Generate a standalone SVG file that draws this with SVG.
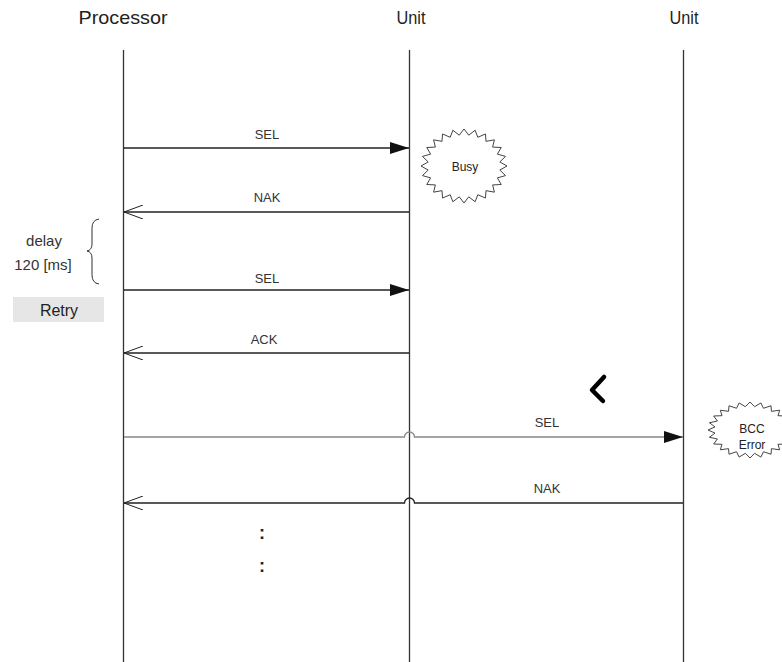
<svg xmlns="http://www.w3.org/2000/svg" xmlns:xlink="http://www.w3.org/1999/xlink" width="782" height="662" viewBox="0 0 782 662">
<style>
  text { font-family: "Liberation Sans", Arial, sans-serif; fill: #222; }
  .hdr { font-size: 19px; text-anchor: middle; }
  .lbl { font-size: 13px; text-anchor: middle; fill: #333; }
  .side { font-size: 15px; text-anchor: middle; fill: #333; }
  .small { font-size: 12px; text-anchor: middle; }
  .life { stroke: #333; stroke-width: 1.3; fill: none; }
  .msg { stroke: #222; stroke-width: 1.3; fill: none; }
  .grey { stroke: #888; }
  .burst { fill: #fff; stroke: #444; stroke-width: 1; vector-effect: non-scaling-stroke; }
</style>
<defs>
  <marker id="filled" viewBox="0 0 19 12" refX="19" refY="6" markerWidth="19" markerHeight="12" markerUnits="userSpaceOnUse" orient="auto">
    <path d="M0,0 L19,6 L0,12 Z" fill="#111"/>
  </marker>
  <marker id="open" viewBox="0 0 20 14" refX="19" refY="7" markerWidth="20" markerHeight="14" markerUnits="userSpaceOnUse" orient="auto">
    <path d="M0,0 L19,7 L0,14" fill="none" stroke="#222" stroke-width="1"/>
  </marker>
  <polygon id="star" class="burst" points="1,0 .833,.110 .966,.259 .776,.321 .866,.5 .666,.511 .707,.707 .511,.666 .5,.866 .321,.776 .259,.966 .110,.833 0,1 -.110,.833 -.259,.966 -.321,.776 -.5,.866 -.511,.666 -.707,.707 -.666,.511 -.866,.5 -.776,.321 -.966,.259 -.833,.110 -1,0 -.833,-.110 -.966,-.259 -.776,-.321 -.866,-.5 -.666,-.511 -.707,-.707 -.511,-.666 -.5,-.866 -.321,-.776 -.259,-.966 -.110,-.833 0,-1 .110,-.833 .259,-.966 .321,-.776 .5,-.866 .511,-.666 .707,-.707 .666,-.511 .866,-.5 .776,-.321 .966,-.259 .833,-.110"/>
</defs>

<g id="processor">
  <text class="hdr" x="123" y="24" textLength="89" lengthAdjust="spacingAndGlyphs">Processor</text>
  <line class="life" x1="123.5" y1="50" x2="123.5" y2="662"/>
</g>
<g id="unit1">
  <text class="hdr" x="411" y="24" textLength="29" lengthAdjust="spacingAndGlyphs">Unit</text>
  <line class="life" x1="409.5" y1="50" x2="409.5" y2="662"/>
</g>
<g id="unit2">
  <text class="hdr" x="684" y="24" textLength="29" lengthAdjust="spacingAndGlyphs">Unit</text>
  <line class="life" x1="683.5" y1="50" x2="683.5" y2="662"/>
</g>

<g id="busy">
  <use xlink:href="#star" transform="translate(464,166) scale(43,37)"/>
  <text class="small" x="465" y="171">Busy</text>
</g>
<g id="bccerror">
  <use xlink:href="#star" transform="translate(750,430) scale(42,28)"/>
  <text class="small" x="752" y="433">BCC</text>
  <text class="small" x="752" y="449">Error</text>
</g>

<g id="delay">
  <text class="side" x="44" y="246">delay</text>
  <text class="side" x="43" y="270">120 [ms]</text>
  <path d="M99,219 Q92,220 92,228 L92,244 Q92,250 87,251 Q92,252 92,258 L92,275 Q92,283 99,284" fill="none" stroke="#333" stroke-width="1"/>
</g>
<g id="retry">
  <rect x="13" y="297" width="91" height="25" fill="#e6e6e6"/>
  <text x="59" y="316" style="font-size:16px;text-anchor:middle">Retry</text>
</g>

<g id="connectors">
  <line class="msg" x1="124" y1="148" x2="409" y2="148" marker-end="url(#filled)"/>
  <text class="lbl" x="267" y="139">SEL</text>
  <line class="msg" x1="409" y1="212" x2="124" y2="212" marker-end="url(#open)"/>
  <text class="lbl" x="267" y="202">NAK</text>
  <line class="msg" x1="124" y1="290" x2="409" y2="290" marker-end="url(#filled)"/>
  <text class="lbl" x="267" y="283">SEL</text>
  <line class="msg" x1="409" y1="353" x2="124" y2="353" marker-end="url(#open)"/>
  <text class="lbl" x="264" y="344">ACK</text>
  <path class="msg grey" d="M124,437 H404.5 A5,5 0 0 1 414.5,437 H683" marker-end="url(#filled)"/>
  <text class="lbl" x="547" y="427">SEL</text>
  <path class="msg" d="M683,503 H414.5 A5,5 0 0 0 404.5,503 H124" marker-end="url(#open)"/>
  <text class="lbl" x="547" y="493">NAK</text>
  <path d="M604,377 L592,390 L603,401" fill="none" stroke="#000" stroke-width="4.5" stroke-linecap="round" stroke-linejoin="round"/>
  <text x="262" y="539" style="font-size:18px;font-weight:bold;text-anchor:middle">:</text>
  <text x="262" y="572" style="font-size:18px;font-weight:bold;text-anchor:middle">:</text>
</g>
</svg>
